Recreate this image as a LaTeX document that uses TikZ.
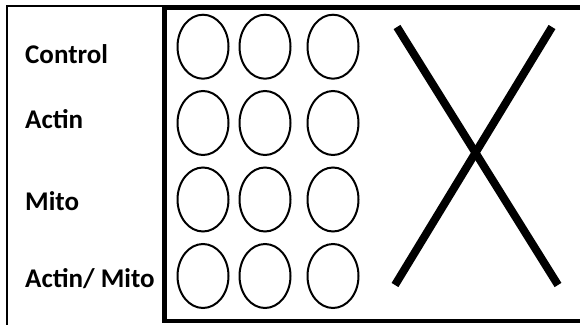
\documentclass[tikz,border=0pt]{standalone}
\usepackage{fontspec}
\setmainfont{Carlito}
\usetikzlibrary{shapes.geometric}
\begin{document}
\begin{tikzpicture}[x=1pt,y=-1pt,
  lbl/.style={anchor=base west, font=\bfseries\fontsize{27}{30}\selectfont, inner sep=0pt},
  well/.style={draw, ellipse, line width=2pt, minimum width=51pt, minimum height=64pt, inner sep=0pt},
  thinframe/.style={line width=2pt},
  thickframe/.style={line width=4.5pt},
  crossline/.style={line width=8pt}
]
\useasboundingbox (0,0) rectangle (580,324);
\clip (0,0) rectangle (580,324);
% label box
\coordinate (lb1) at (7,330);
\coordinate (lb2) at (7,6);
\coordinate (lb3) at (164,6);
\draw[thinframe] (lb1) -- (lb2) -- (lb3);
% plate frame
\coordinate (pf1) at (164.5,321);
\coordinate (pf2) at (600,7.5);
\draw[thickframe] (pf1) rectangle (pf2);
% labels
\node[lbl] (lc) at (25,63) {Control};
\node[lbl] (la) at (25,128) {Actin};
\node[lbl] (lm) at (25,210) {Mito};
\node[lbl] (lam) at (25,287) {Actin/ Mito};
% wells
\foreach \r/\y in {1/46.7,2/123,3/199.5,4/276}{
  \foreach \c/\x in {1/203,2/265,3/333}{
    \node[well] (w\r\c) at (\x,\y) {};
  }
}
% cross
\coordinate (xa) at (397,27);
\coordinate (xb) at (558,285);
\coordinate (xc) at (552,27);
\coordinate (xd) at (395,285);
\draw[crossline] (xa) -- (xb);
\draw[crossline] (xc) -- (xd);
\end{tikzpicture}
\end{document}
